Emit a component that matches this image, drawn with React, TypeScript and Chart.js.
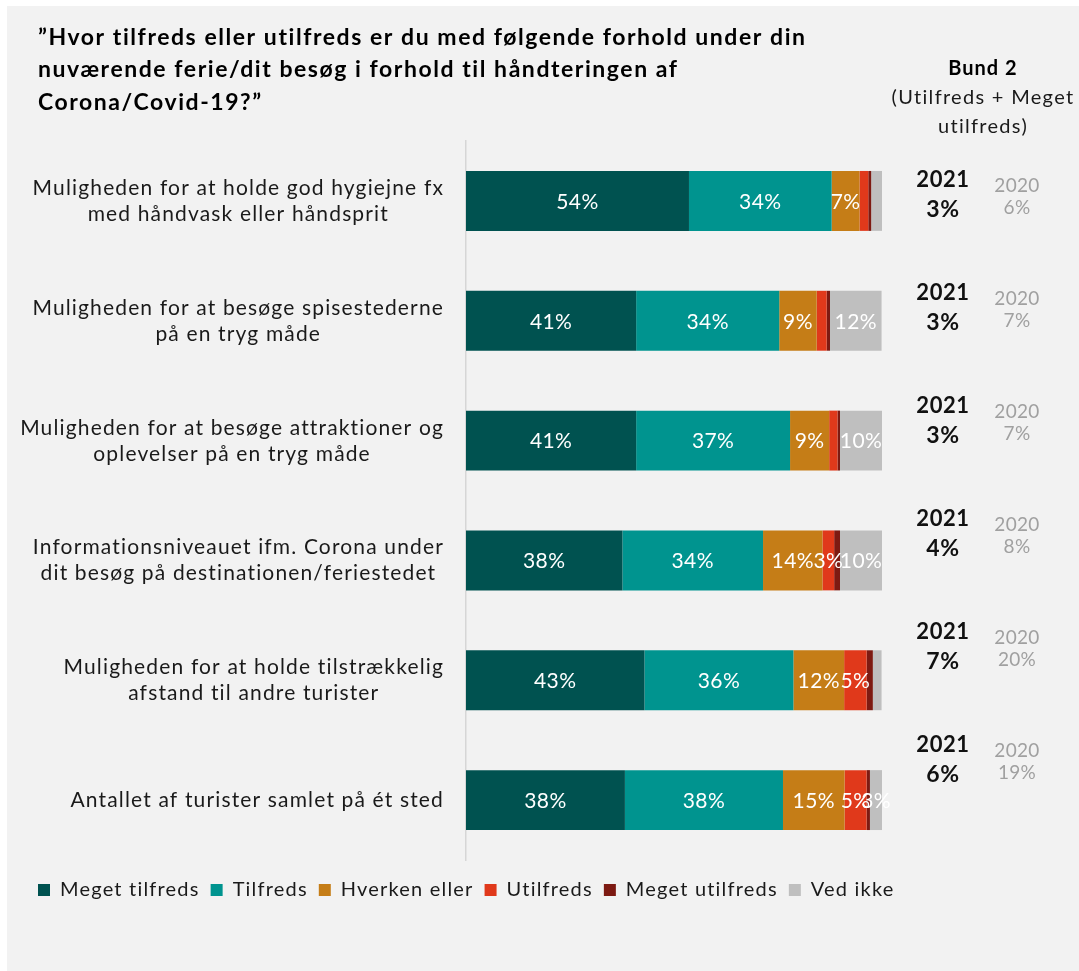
import React, { useEffect, useRef } from "react";
import { Chart, registerables } from "chart.js";

Chart.register(...registerables);

const FONT = "Lato";

const titleLines = [
  "\u201DHvor tilfreds eller utilfreds er du med følgende forhold under din",
  "nuværende ferie/dit besøg i forhold til håndteringen af",
  "Corona/Covid-19?\u201D",
];

const headerLines = ["Bund 2", "(Utilfreds + Meget", "utilfreds)"];

const categories: string[][] = [
  ["Muligheden for at holde god hygiejne fx", "med håndvask eller håndsprit"],
  ["Muligheden for at besøge spisestederne", "på en tryg måde"],
  ["Muligheden for at besøge attraktioner og", "oplevelser på en tryg måde"],
  ["Informationsniveauet ifm. Corona under", "dit besøg på destinationen/feriestedet"],
  ["Muligheden for at holde tilstrækkelig", "afstand til andre turister"],
  ["Antallet af turister samlet på ét sted"],
];

const seriesNames = [
  "Meget tilfreds",
  "Tilfreds",
  "Hverken eller",
  "Utilfreds",
  "Meget utilfreds",
  "Ved ikke",
];
const seriesColors = ["#005250", "#00948f", "#c57d17", "#e0391b", "#7d1a12", "#bfbfbf"];

const megetTilfreds = [53.6, 40.9, 40.9, 37.6, 42.9, 38.2];
const tilfreds = [34.3, 34.4, 37.0, 33.8, 35.8, 38.0];
const hverkenEller = [6.7, 9.0, 9.4, 14.3, 12.2, 14.8];
const utilfreds = [2.1, 2.4, 2.0, 2.8, 5.4, 5.3];
const megetUtilfreds = [0.7, 0.8, 0.6, 1.4, 1.5, 0.8];
const vedIkke = [2.6, 12.4, 10.1, 10.1, 2.1, 3.0];

const bund2Year2021 = "2021";
const bund2Year2020 = "2020";
const bund2_2021 = [3, 3, 3, 4, 7, 6];
const bund2_2020 = [6, 7, 7, 8, 20, 19];

const seriesValues = [megetTilfreds, tilfreds, hverkenEller, utilfreds, megetUtilfreds, vedIkke];

const LEGEND_SPACING = "1.2px";

const textPlugin = {
  id: "customTexts",
  beforeLayout(chart: any) {
    chart.ctx.letterSpacing = LEGEND_SPACING;
  },
  beforeDraw(chart: any) {
    chart.ctx.letterSpacing = LEGEND_SPACING;
  },
  afterDatasetsDraw(chart: any) {
    const ctx = chart.ctx;
    ctx.save();
    ctx.letterSpacing = "0.4px";
    ctx.fillStyle = "#ffffff";
    ctx.font = `21px ${FONT}`;
    ctx.textAlign = "center";
    ctx.textBaseline = "middle";
    chart.data.datasets.forEach((ds: any, di: number) => {
      const meta = chart.getDatasetMeta(di);
      meta.data.forEach((bar: any, i: number) => {
        const v = ds.data[i];
        if (v < 2.75) return;
        const { x, base, y } = bar.getProps(["x", "base", "y"], true);
        ctx.fillText(Math.round(v) + "%", (x + base) / 2, y + 1);
      });
    });
    ctx.restore();
  },
  afterDraw(chart: any) {
    const ctx = chart.ctx;
    const yScale = chart.scales.y;
    ctx.save();
    ctx.textBaseline = "alphabetic";

    // Title
    ctx.letterSpacing = "1.55px";
    ctx.fillStyle = "#000000";
    ctx.font = `bold 23px ${FONT}`;
    ctx.textAlign = "left";
    titleLines.forEach((t, i) => ctx.fillText(t, 31, 38.5 + i * 32.5));

    // Header right
    ctx.textAlign = "center";
    ctx.letterSpacing = "1px";
    ctx.font = `bold 20px ${FONT}`;
    ctx.fillText(headerLines[0], 976, 69);
    ctx.letterSpacing = "1.3px";
    ctx.font = `20px ${FONT}`;
    ctx.fillStyle = "#1a1a1a";
    ctx.fillText(headerLines[1], 976, 98);
    ctx.fillText(headerLines[2], 976, 127);

    // Category labels: block right-aligned, lines centered
    ctx.letterSpacing = "1.15px";
    ctx.font = `21px ${FONT}`;
    ctx.fillStyle = "#1a1a1a";
    const rightEdge = 437;
    categories.forEach((lines, i) => {
      const yc = yScale.getPixelForValue(i);
      const widest = Math.max(...lines.map((l) => ctx.measureText(l).width));
      const cx = rightEdge - widest / 2;
      const n = lines.length;
      lines.forEach((l, li) => {
        ctx.fillText(l, cx, yc - (n - 1) * 13 + 7 + li * 26);
      });
    });

    // Bund 2 annotations
    categories.forEach((_, i) => {
      const yc = yScale.getPixelForValue(i) - i * 6.8;
      ctx.fillStyle = "#111111";
      ctx.letterSpacing = "0.6px";
      ctx.font = `bold 22px ${FONT}`;
      ctx.fillText(bund2Year2021, 936, yc - 14);
      ctx.font = `bold 23px ${FONT}`;
      ctx.fillText(bund2_2021[i] + "%", 936, yc + 16);
      ctx.fillStyle = "#a0a0a0";
      ctx.letterSpacing = "0.3px";
      ctx.font = `19px ${FONT}`;
      ctx.fillText(bund2Year2020, 1010, yc - 9);
      ctx.fillText(bund2_2020[i] + "%", 1010, yc + 13);
    });
    ctx.restore();
  },
};

export default function App() {
  const canvasRef = useRef<HTMLCanvasElement | null>(null);

  useEffect(() => {
    if (!canvasRef.current) return;
    const chart = new Chart(canvasRef.current, {
      type: "bar",
      data: {
        labels: categories.map((c) => c.join(" ")),
        datasets: seriesNames.map((name, i) => ({
          label: name,
          data: seriesValues[i],
          backgroundColor: seriesColors[i],
          borderWidth: 0,
          barPercentage: 0.5,
          categoryPercentage: 1,
        })),
      },
      options: {
        indexAxis: "y",
        responsive: false,
        animation: false,
        devicePixelRatio: 1,
        layout: { padding: { top: 135, left: 20, right: 0, bottom: 61 } },
        scales: {
          x: {
            stacked: true,
            min: 0,
            max: 100,
            grid: { display: false },
            border: { display: false },
            ticks: { display: false },
            afterFit: (s: any) => {
              s.height = 9;
            },
          },
          y: {
            stacked: true,
            position: "left",
            grid: { display: false },
            border: { display: true, color: "#d6d6d6", width: 1.5 },
            ticks: { display: false },
            afterFit: (s: any) => {
              s.width = 439;
            },
          },
          yRight: {
            axis: "y",
            type: "category",
            position: "right",
            labels: categories.map((c) => c.join(" ")),
            grid: { display: false },
            border: { display: false },
            ticks: { display: false },
            afterFit: (s: any) => {
              s.width = 197;
            },
          },
        } as any,
        plugins: {
          legend: {
            display: true,
            position: "bottom",
            align: "start",
            labels: {
              boxWidth: 12,
              boxHeight: 12,
              padding: 11,
              color: "#1a1a1a",
              font: { size: 20, family: FONT },
            },
          },
          title: { display: false },
          tooltip: { enabled: false },
        },
      },
      plugins: [textPlugin],
    });
    return () => chart.destroy();
  }, []);

  return (
    <div
      style={{
        position: "absolute",
        left: 7,
        top: 6,
        width: 1072,
        height: 965,
        background: "#f2f2f2",
      }}
    >
      <canvas ref={canvasRef} width={1072} height={965} style={{ display: "block" }} />
    </div>
  );
}
